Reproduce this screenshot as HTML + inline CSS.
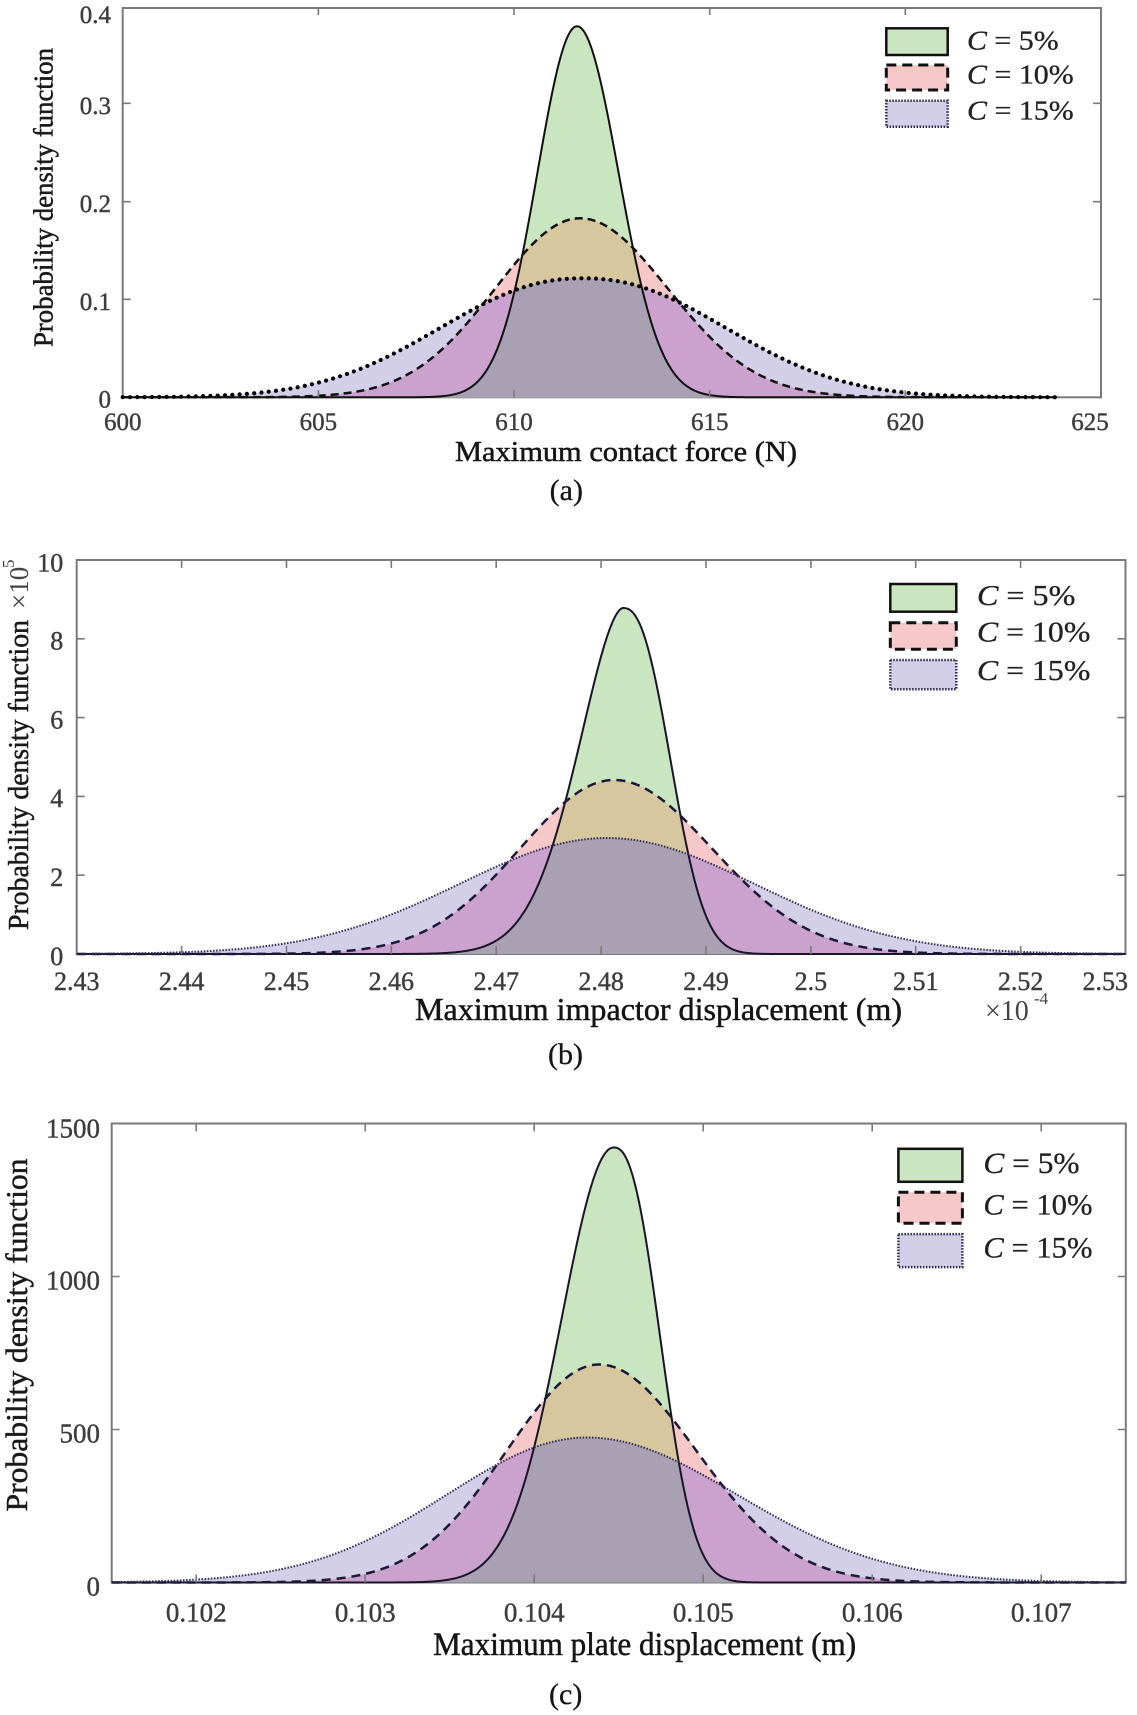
<!DOCTYPE html>
<html><head><meta charset="utf-8">
<style>
html,body{margin:0;padding:0;background:#fff;}
svg{display:block;}
text{font-family:"Liberation Serif","Times New Roman",serif;}
</style></head>
<body>
<svg id="s" width="1137" height="1715" viewBox="0 0 1137 1715" xmlns="http://www.w3.org/2000/svg">
<defs id="defs"></defs>
<rect x="0" y="0" width="1137" height="1715" fill="#fff"/>

<!-- axes boxes -->
<g fill="none" stroke="#7a7a7a" stroke-width="2">
<rect x="122.7" y="8" width="978.3" height="389.3"/>
<rect x="76.7" y="560" width="1048.8" height="394"/>
<rect x="111.7" y="1123.5" width="1014.1" height="459"/>
</g>

<g id="ga"></g>
<g id="gb"></g>
<g id="gc"></g>

<!-- ticks -->
<g fill="none" stroke="#7a7a7a" stroke-width="1.6">
<path d="M318.4,8v7M514,8v7M709.7,8v7M905.3,8v7M318.4,397.3v-7M514,397.3v-7M709.7,397.3v-7M905.3,397.3v-7M122.7,299.3h8M122.7,201.7h8M122.7,103.3h8M1101,299.3h-8M1101,201.7h-8M1101,103.3h-8"/>
<path d="M181.6,560v8M286.5,560v8M391.3,560v8M496.2,560v8M601.1,560v8M706,560v8M810.9,560v8M915.7,560v8M1020.6,560v8M181.6,954v-8M286.5,954v-8M391.3,954v-8M496.2,954v-8M601.1,954v-8M706,954v-8M810.9,954v-8M915.7,954v-8M1020.6,954v-8M76.7,875.2h8M76.7,796.4h8M76.7,717.6h8M76.7,638.8h8M1125.5,875.2h-8M1125.5,796.4h-8M1125.5,717.6h-8M1125.5,638.8h-8"/>
<path d="M196.2,1123.5v8M365.2,1123.5v8M534.2,1123.5v8M703.2,1123.5v8M872.2,1123.5v8M1041.2,1123.5v8M196.2,1582.5v-8M365.2,1582.5v-8M534.2,1582.5v-8M703.2,1582.5v-8M872.2,1582.5v-8M1041.2,1582.5v-8M111.7,1429.5h8M111.7,1276.5h8M1125.8,1429.5h-8M1125.8,1276.5h-8"/>
</g>

<!-- ===== Panel (a) text ===== -->
<g font-size="25" fill="#3c3c3c" stroke="#3c3c3c" stroke-width="0.4" text-anchor="end">
<text x="111" y="407.5">0</text>
<text x="111" y="309.8">0.1</text>
<text x="111" y="212.2">0.2</text>
<text x="111" y="113.8">0.3</text>
<text x="111" y="23">0.4</text>
</g>
<g font-size="25" fill="#3c3c3c" stroke="#3c3c3c" stroke-width="0.4" text-anchor="middle">
<text x="122.7" y="430">600</text>
<text x="318.4" y="430">605</text>
<text x="514" y="430">610</text>
<text x="709.7" y="430">615</text>
<text x="905.3" y="430">620</text>
<text x="1090" y="430">625</text>
</g>
<text transform="translate(52.5,197.5) rotate(-90)" text-anchor="middle" font-size="27" fill="#1a1a1a" stroke="#1a1a1a" stroke-width="0.5" textLength="299" lengthAdjust="spacingAndGlyphs">Probability density function</text>
<text x="626" y="461" text-anchor="middle" font-size="29" fill="#151515" stroke="#151515" stroke-width="0.5" textLength="342" lengthAdjust="spacingAndGlyphs">Maximum contact force (N)</text>
<text x="566.3" y="500" text-anchor="middle" font-size="30" fill="#151515" stroke="#151515" stroke-width="0.3">(a)</text>

<!-- legend a -->
<rect x="886.3" y="28.3" width="61.4" height="26.7" fill="#c9e6c1" stroke="#111" stroke-width="2.5"/>
<rect x="886.3" y="65" width="61.4" height="25" fill="#f7c8c8" stroke="#111" stroke-width="3" stroke-dasharray="10 6"/>
<rect x="886.3" y="100.7" width="61.4" height="26" fill="#d3cfe8" stroke="#2a2a4a" stroke-width="2.5" stroke-dasharray="1.5 1.5"/>
<g font-size="27" fill="#222" stroke="#222" stroke-width="0.3">
<text x="967" y="49.3" textLength="91.7" lengthAdjust="spacingAndGlyphs"><tspan font-style="italic">C</tspan> = 5%</text>
<text x="967" y="83.3" textLength="106.7" lengthAdjust="spacingAndGlyphs"><tspan font-style="italic">C</tspan> = 10%</text>
<text x="967" y="119.3" textLength="106.7" lengthAdjust="spacingAndGlyphs"><tspan font-style="italic">C</tspan> = 15%</text>
</g>

<!-- ===== Panel (b) text ===== -->
<g font-size="26" fill="#3c3c3c" stroke="#3c3c3c" stroke-width="0.4" text-anchor="end">
<text x="63.3" y="964.8">0</text>
<text x="63.3" y="886">2</text>
<text x="63.3" y="807.2">4</text>
<text x="63.3" y="728.4">6</text>
<text x="63.3" y="649.6">8</text>
<text x="63.3" y="571.5">10</text>
</g>
<g font-size="26" fill="#3c3c3c" stroke="#3c3c3c" stroke-width="0.4" text-anchor="middle">
<text x="76.7" y="990">2.43</text>
<text x="181.6" y="990">2.44</text>
<text x="286.5" y="990">2.45</text>
<text x="391.3" y="990">2.46</text>
<text x="496.2" y="990">2.47</text>
<text x="601.1" y="990">2.48</text>
<text x="706" y="990">2.49</text>
<text x="810.9" y="990">2.5</text>
<text x="915.7" y="990">2.51</text>
<text x="1020.6" y="990">2.52</text>
<text x="1128" y="990" text-anchor="end">2.53</text>
</g>
<text transform="translate(28,930) rotate(-90)" font-size="28" fill="#1a1a1a" stroke="#1a1a1a" stroke-width="0.5" textLength="310" lengthAdjust="spacingAndGlyphs">Probability density function</text>
<text transform="translate(28,609) rotate(-90)" font-size="27" fill="#444">×10</text>
<text transform="translate(14,568) rotate(-90)" font-size="17" fill="#444">5</text>
<text x="658.5" y="1020" text-anchor="middle" font-size="32" fill="#151515" stroke="#151515" stroke-width="0.5" textLength="487" lengthAdjust="spacingAndGlyphs">Maximum impactor displacement (m)</text>
<text x="985" y="1020" font-size="28" fill="#444">×10</text>
<text x="1034" y="1004" font-size="17" fill="#444">-4</text>
<text x="565.5" y="1064" text-anchor="middle" font-size="30" fill="#151515" stroke="#151515" stroke-width="0.3">(b)</text>

<!-- legend b -->
<rect x="890.3" y="584" width="66" height="27.7" fill="#c9e6c1" stroke="#111" stroke-width="2.5"/>
<rect x="890.3" y="622.7" width="66" height="26.6" fill="#f7c8c8" stroke="#111" stroke-width="3" stroke-dasharray="10 6"/>
<rect x="890.3" y="660" width="66" height="29.3" fill="#d3cfe8" stroke="#2a2a4a" stroke-width="2.5" stroke-dasharray="1.5 1.5"/>
<g font-size="29" fill="#222" stroke="#222" stroke-width="0.3">
<text x="977" y="605" textLength="98.3" lengthAdjust="spacingAndGlyphs"><tspan font-style="italic">C</tspan> = 5%</text>
<text x="977" y="641.7" textLength="113.3" lengthAdjust="spacingAndGlyphs"><tspan font-style="italic">C</tspan> = 10%</text>
<text x="977" y="680" textLength="113.3" lengthAdjust="spacingAndGlyphs"><tspan font-style="italic">C</tspan> = 15%</text>
</g>

<!-- ===== Panel (c) text ===== -->
<g font-size="27" fill="#3c3c3c" stroke="#3c3c3c" stroke-width="0.4" text-anchor="end">
<text x="100" y="1595.5">0</text>
<text x="100" y="1442.5">500</text>
<text x="100" y="1289.5">1000</text>
<text x="100" y="1137.5">1500</text>
</g>
<g font-size="27" fill="#3c3c3c" stroke="#3c3c3c" stroke-width="0.4" text-anchor="middle">
<text x="196.2" y="1621.7">0.102</text>
<text x="365.2" y="1621.7">0.103</text>
<text x="534.2" y="1621.7">0.104</text>
<text x="703.2" y="1621.7">0.105</text>
<text x="872.2" y="1621.7">0.106</text>
<text x="1041.2" y="1621.7">0.107</text>
</g>
<text transform="translate(27,1335) rotate(-90)" text-anchor="middle" font-size="31" fill="#1a1a1a" stroke="#1a1a1a" stroke-width="0.5" textLength="353" lengthAdjust="spacingAndGlyphs">Probability density function</text>
<text x="644.6" y="1655" text-anchor="middle" font-size="33" fill="#151515" stroke="#151515" stroke-width="0.5" textLength="423" lengthAdjust="spacingAndGlyphs">Maximum plate displacement (m)</text>
<text x="565.7" y="1704" text-anchor="middle" font-size="30" fill="#151515" stroke="#151515" stroke-width="0.3">(c)</text>

<!-- legend c -->
<rect x="898.4" y="1148.8" width="64" height="33" fill="#c9e6c1" stroke="#111" stroke-width="2.5"/>
<rect x="898.4" y="1192.2" width="64" height="31.1" fill="#f7c8c8" stroke="#111" stroke-width="3" stroke-dasharray="10 6"/>
<rect x="898.4" y="1234.1" width="64" height="33" fill="#d3cfe8" stroke="#2a2a4a" stroke-width="2.5" stroke-dasharray="1.5 1.5"/>
<g font-size="30" fill="#222" stroke="#222" stroke-width="0.3">
<text x="983.4" y="1172.8" textLength="96.2" lengthAdjust="spacingAndGlyphs"><tspan font-style="italic">C</tspan> = 5%</text>
<text x="983.4" y="1214.7" textLength="109.1" lengthAdjust="spacingAndGlyphs"><tspan font-style="italic">C</tspan> = 10%</text>
<text x="983.4" y="1257.4" textLength="109.1" lengthAdjust="spacingAndGlyphs"><tspan font-style="italic">C</tspan> = 15%</text>
</g>
</svg>

<script>
(function(){
var NS='http://www.w3.org/2000/svg';
var defs=document.getElementById('defs');
function el(tag,attrs,parent){var e=document.createElementNS(NS,tag);for(var k in attrs){e.setAttribute(k,attrs[k]);}if(parent){parent.appendChild(e);}return e;}
function val(c,x){var d=x-c.c;var s=d<0?c.sl:c.sr;var p=d<0?(c.pl||2):(c.pr||2);return c.h*Math.exp(-0.5*Math.pow(Math.abs(d)/s,p));}
function line(P,c){var s='';var n=Math.ceil(P.xb-P.xa);for(var i=0;i<=n;i++){var x=Math.min(P.xa+i,P.xb);var y=P.y0-val(c,x);s+=(i?'L':'M')+x.toFixed(2)+','+y.toFixed(2);}return s;}
function area(P,c){return line(P,c)+'L'+P.xb+','+P.y0+'L'+P.xa+','+P.y0+'Z';}
var LAV='#d3cfe8',PINK='#f7c8c8',PURP='#cba1cd',GRN='#c9e6c1',TAN='#d6c79f',GRAY='#a9a1b3';
var panels=[
 {id:'ga',xa:122.7,xb:1057,y0:397.3,st:'a',
  G:{c:577,sl:39.5,sr:41.5,h:371},
  R:{c:580,sl:85,sr:88,h:179},
  B:{c:583,sl:138,sr:138,h:119,pl:2.2,pr:2.2}},
 {id:'gb',xa:76.7,xb:1125.5,y0:954,st:'b',
  G:{c:623,sl:43.5,sr:44.7,h:346,pl:1.75,pr:2.4},
  R:{c:614,sl:94,sr:98,h:174},
  B:{c:607,sl:147,sr:147,h:116}},
 {id:'gc',xa:111.7,xb:1125.8,y0:1582.5,st:'c',
  G:{c:613.6,sl:52,sr:44,h:435,pl:2,pr:2.4},
  R:{c:599,sl:92,sr:97,h:218},
  B:{c:587,sl:140,sr:150,h:145}}
];
panels.forEach(function(P){
  var g=document.getElementById(P.id);
  var aG=area(P,P.G),aR=area(P,P.R),aB=area(P,P.B);
  var cB=el('clipPath',{id:P.id+'cB'},defs);el('path',{d:aB},cB);
  var cR=el('clipPath',{id:P.id+'cR'},defs);el('path',{d:aR},cR);
  el('path',{d:aB,fill:LAV},g);
  el('path',{d:aR,fill:PINK},g);
  el('path',{d:aR,fill:PURP,'clip-path':'url(#'+P.id+'cB)'},g);
  el('path',{d:aG,fill:GRN},g);
  el('path',{d:aG,fill:TAN,'clip-path':'url(#'+P.id+'cR)'},g);
  el('path',{d:aG,fill:GRAY,'clip-path':'url(#'+P.id+'cB)'},g);
  if(P.st==='a'){
    el('path',{d:line(P,P.G),fill:'none',stroke:'#111','stroke-width':2},g);
    el('path',{d:line(P,P.R),fill:'none',stroke:'#111','stroke-width':2.5,'stroke-dasharray':'8 5'},g);
    el('path',{d:line(P,P.B),fill:'none',stroke:'#000','stroke-width':4.2,'stroke-dasharray':'0.01 7.3','stroke-linecap':'round'},g);
  } else {
    el('path',{d:line(P,P.G),fill:'none',stroke:'#1a1428','stroke-width':2},g);
    el('path',{d:line(P,P.R),fill:'none',stroke:'#1a1a38','stroke-width':2.5,'stroke-dasharray':'9 6'},g);
    el('path',{d:line(P,P.B),fill:'none',stroke:'#2c2c50','stroke-width':2,'stroke-dasharray':'1.5 1.6'},g);
  }
});
})();
</script>
</body></html>
